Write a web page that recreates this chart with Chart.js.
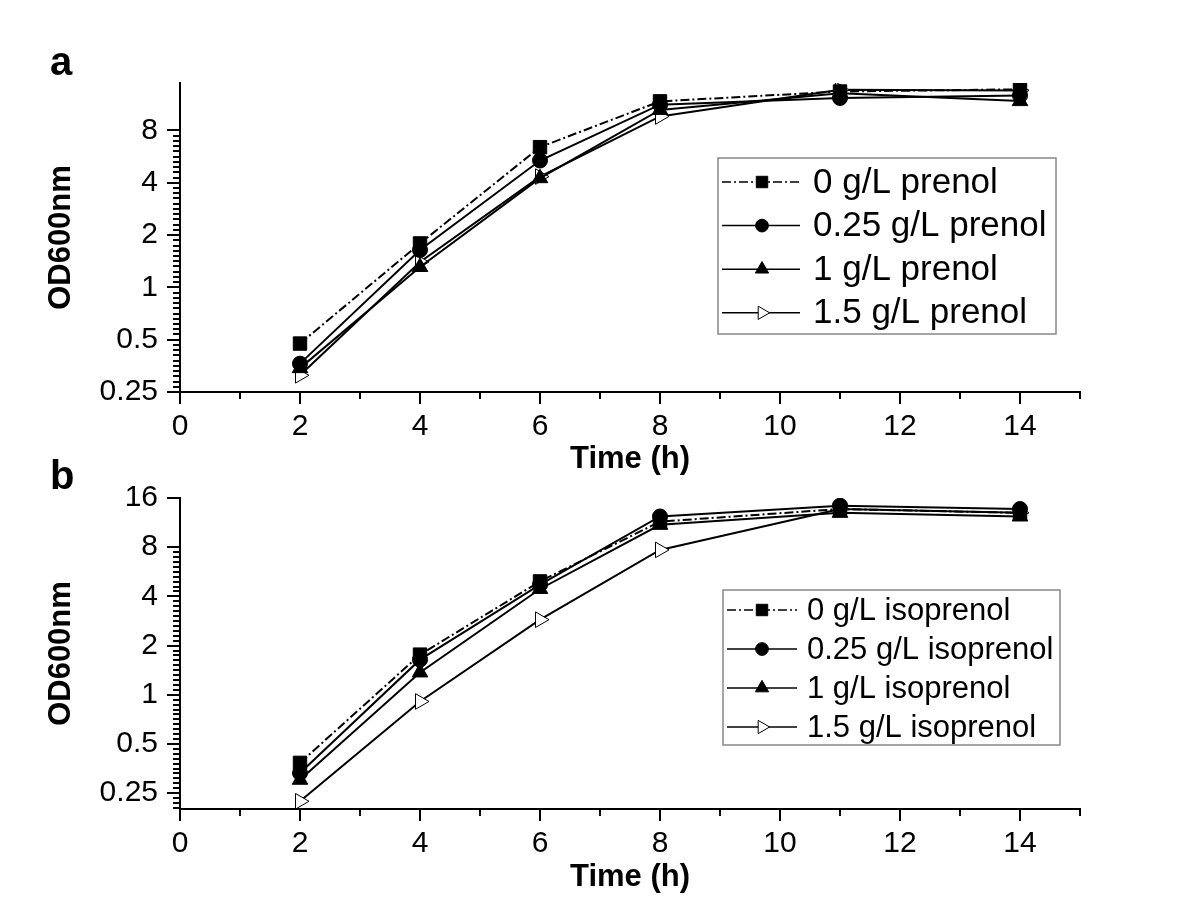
<!DOCTYPE html>
<html>
<head>
<meta charset="utf-8">
<script src="https://cdn.jsdelivr.net/npm/chart.js@4.4.1/dist/chart.umd.min.js"></script>
<style>
  body { margin: 0; background: #fff; }
  #wrap { position: relative; width: 1200px; height: 920px; }
  canvas { position: absolute; left: 0; }
  #chartA { top: 0; }
  #chartB { top: 440px; }
</style>
</head>
<body>
<div id="wrap">
  <canvas id="chartA" width="1200" height="480"></canvas>
  <canvas id="chartB" width="1200" height="480"></canvas>
</div>
<script>
// sampling times (h)
var hours = [2, 4, 6, 8, 11, 14];

// panel a: prenol, OD600
var prenol0   = [0.475, 1.79, 6.41, 11.76, 13.4, 13.8];
var prenol025 = [0.364, 1.64, 5.37, 11.25, 12.3, 12.7];
var prenol1   = [0.343, 1.31, 4.25, 10.5, 13.1, 11.8];
var prenol15  = [0.312, 1.40, 4.34, 9.63, 13.7, 13.6];

// panel b: isoprenol, OD600
var iso0   = [0.383, 1.76, 4.94, 11.47, 13.7, 12.98];
var iso025 = [0.332, 1.64, 4.72, 12.33, 14.36, 13.7];
var iso1   = [0.302, 1.37, 4.44, 10.96, 12.98, 12.33];
var iso15  = [0.223, 0.91, 2.88, 7.7, 13.7, 13.0];

var prenolLabels = ['0 g/L prenol', '0.25 g/L prenol', '1 g/L prenol', '1.5 g/L prenol'];
var isoLabels = ['0 g/L isoprenol', '0.25 g/L isoprenol', '1 g/L isoprenol', '1.5 g/L isoprenol'];

var xTicks = [0, 2, 4, 6, 8, 10, 12, 14];
var xMinorTicks = [1, 3, 5, 7, 9, 11, 13, 15];
var yTicksA = [0.25, 0.5, 1, 2, 4, 8];
var yTicksB = [0.25, 0.5, 1, 2, 4, 8, 16];

var FONT = "'Liberation Sans', Arial, sans-serif";
Chart.defaults.font.family = FONT;
Chart.defaults.color = '#000';

var markerStyles = [
  { pointStyle: 'rect', radius: 9.5, rotation: 0, fill: '#000', dash: [9, 3, 2, 3] },
  { pointStyle: 'circle', radius: 7.5, rotation: 0, fill: '#000', dash: [] },
  { pointStyle: 'triangle', radius: 9, rotation: 0, fill: '#000', dash: [] },
  { pointStyle: 'triangle', radius: 9, rotation: 90, fill: '#fff', dash: [] }
];

function makeSets(labels, series) {
  var sets = [];
  for (var i = 0; i < series.length; i++) {
    var st = markerStyles[i];
    var pts = [];
    for (var j = 0; j < hours.length; j++) {
      pts.push({ x: hours[j], y: series[i][j] });
    }
    sets.push({
      label: labels[i],
      data: pts,
      borderColor: '#000',
      borderWidth: 2,
      borderDash: st.dash,
      tension: 0,
      fill: false,
      pointStyle: st.pointStyle,
      pointRadius: st.radius,
      pointRotation: st.rotation,
      pointBackgroundColor: st.fill,
      pointBorderColor: '#000',
      pointBorderWidth: 1
    });
  }
  return sets;
}

// minor / major tick marks pointing outward
var axisTicks = {
  id: 'axisTicks',
  afterDraw: function(chart, args, opts) {
    var ctx = chart.ctx, xs = chart.scales.x, ys = chart.scales.y, area = chart.chartArea;
    ctx.save();
    ctx.strokeStyle = '#000';
    ctx.lineWidth = 2;
    ctx.beginPath();
    xTicks.forEach(function(v) {
      var p = Math.round(xs.getPixelForValue(v));
      ctx.moveTo(p, area.bottom); ctx.lineTo(p, area.bottom + 12);
    });
    xMinorTicks.forEach(function(v) {
      var p = Math.round(xs.getPixelForValue(v));
      ctx.moveTo(p, area.bottom); ctx.lineTo(p, area.bottom + 7);
    });
    opts.major.forEach(function(v) {
      var p = Math.round(ys.getPixelForValue(v));
      ctx.moveTo(area.left, p); ctx.lineTo(area.left - 13, p);
    });
    // ten minor divisions per doubling
    for (var k = -40; k <= 60; k++) {
      var v = 0.125 * Math.pow(2, k / 10);
      if (v < ys.min || v > ys.max || k % 10 === 0) continue;
      var p = Math.round(ys.getPixelForValue(v));
      ctx.moveTo(area.left, p); ctx.lineTo(area.left - 7, p);
    }
    ctx.stroke();
    ctx.restore();
  }
};

var boxLegend = {
  id: 'boxLegend',
  afterDatasetsDraw: function(chart, args, o) {
    var ctx = chart.ctx;
    ctx.save();
    ctx.fillStyle = '#fff';
    ctx.fillRect(o.x, o.y, o.w, o.h);
    ctx.strokeStyle = '#888';
    ctx.lineWidth = 1.5;
    ctx.strokeRect(o.x, o.y, o.w, o.h);
    chart.data.datasets.forEach(function(ds, i) {
      var y = o.y + o.first + i * o.rowH;
      ctx.strokeStyle = '#000';
      ctx.lineWidth = 1.5;
      ctx.setLineDash(ds.borderDash || []);
      ctx.beginPath();
      ctx.moveTo(o.x + 4, y); ctx.lineTo(o.x + o.lineW, y);
      ctx.stroke();
      ctx.setLineDash([]);
      ctx.fillStyle = ds.pointBackgroundColor;
      ctx.lineWidth = 1;
      Chart.helpers.drawPoint(ctx, {
        pointStyle: ds.pointStyle, radius: ds.pointRadius * 0.85,
        rotation: ds.pointRotation, borderWidth: 1
      }, o.x + o.markX, y);
      ctx.fillStyle = '#000';
      ctx.font = o.size + 'px ' + FONT;
      ctx.textBaseline = 'middle';
      ctx.textAlign = 'left';
      ctx.fillText(ds.label, o.x + o.textX, y + 1);
    });
    ctx.restore();
  }
};

var panelLetter = {
  id: 'panelLetter',
  afterDraw: function(chart, args, o) {
    var ctx = chart.ctx;
    ctx.save();
    ctx.fillStyle = '#000';
    ctx.font = 'bold 40px ' + FONT;
    ctx.textAlign = 'left';
    ctx.textBaseline = 'alphabetic';
    ctx.fillText(o.text, o.x, o.y);
    ctx.restore();
  }
};

function makeChart(id, sets, cfg) {
  var ctx = document.getElementById(id).getContext('2d');
  return new Chart(ctx, {
    type: 'line',
    data: { datasets: sets },
    options: {
      responsive: false,
      animation: false,
      layout: { padding: { top: cfg.top, right: 120, left: 0, bottom: 0 } },
      scales: {
        x: {
          type: 'linear',
          min: 0,
          max: 15,
          afterBuildTicks: function(s) { s.ticks = xTicks.map(function(v) { return { value: v }; }); },
          afterFit: function(s) { s.height = 480 - cfg.bottom; },
          grid: { display: false, drawTicks: false },
          border: { display: true, color: '#000', width: 2 },
          ticks: { font: { size: 30 }, padding: 17, maxRotation: 0, autoSkip: false },
          title: {
            display: true, text: 'Time (h)',
            font: { size: 31, weight: 'bold', lineHeight: 1 },
            padding: { top: 0, bottom: cfg.titlePad }
          }
        },
        y: {
          type: 'logarithmic',
          min: cfg.yMin,
          max: cfg.yMax,
          afterBuildTicks: function(s) { s.ticks = cfg.yTicks.map(function(v) { return { value: v }; }); },
          afterFit: function(s) { s.width = 180; },
          grid: { display: false, drawTicks: false },
          border: { display: true, color: '#000', width: 2 },
          ticks: {
            font: { size: 30 }, padding: 22, autoSkip: false,
            callback: function(v) { return String(v); }
          },
          title: {
            display: true, text: 'OD600nm',
            font: { size: 31, weight: 'bold', lineHeight: 1 },
            padding: { top: 46, bottom: 0 }
          }
        }
      },
      plugins: {
        legend: { display: false },
        tooltip: { enabled: false },
        axisTicks: { major: cfg.yTicks },
        boxLegend: cfg.legend,
        panelLetter: cfg.letter
      }
    },
    plugins: [axisTicks, boxLegend, panelLetter]
  });
}

makeChart('chartA', makeSets(prenolLabels, [prenol0, prenol025, prenol1, prenol15]), {
  top: 83, bottom: 392, titlePad: 5,
  yMin: 0.25, yMax: 15, yTicks: yTicksA,
  legend: { x: 718, y: 158, w: 338, h: 176, first: 24, rowH: 43.6, lineW: 82, markX: 44, textX: 95, size: 35 },
  letter: { text: 'a', x: 50, y: 75 }
});

makeChart('chartB', makeSets(isoLabels, [iso0, iso025, iso1, iso15]), {
  top: 58, bottom: 369, titlePad: 27,
  yMin: 0.2, yMax: 16, yTicks: yTicksB,
  legend: { x: 723, y: 150, w: 337, h: 155, first: 20, rowH: 39, lineW: 74, markX: 39, textX: 84, size: 31 },
  letter: { text: 'b', x: 50, y: 49 }
});
</script>
</body>
</html>
